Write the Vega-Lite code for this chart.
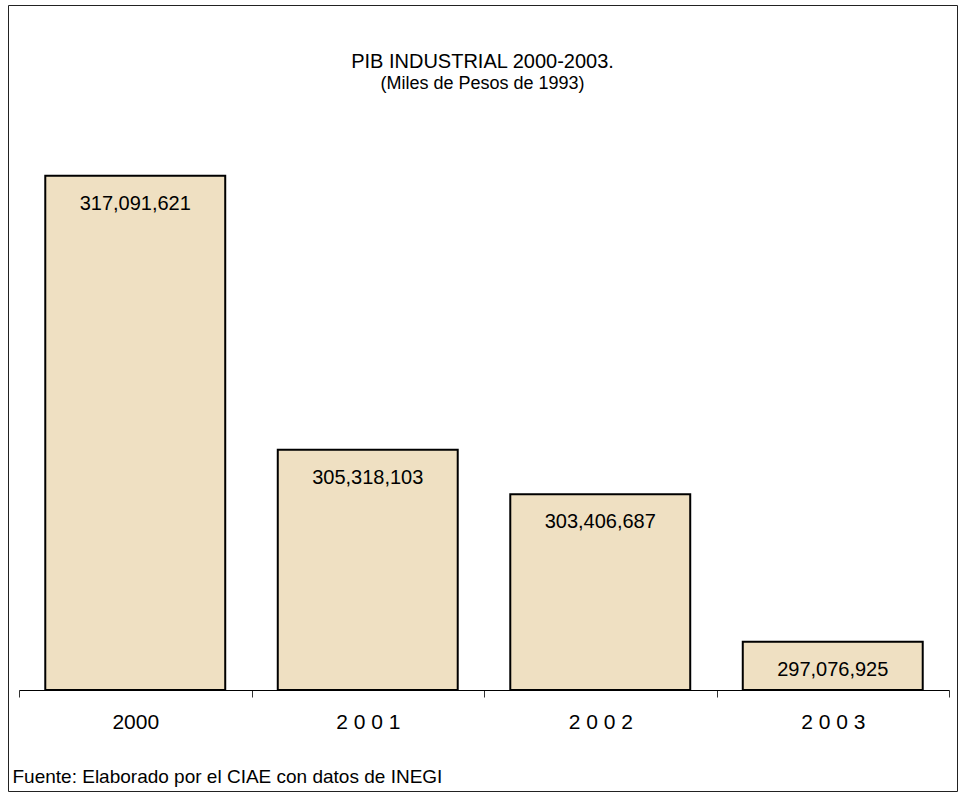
{
  "$schema": "https://vega.github.io/schema/vega-lite/v6.json",
  "width": 949,
  "height": 786,
  "autosize": {"type": "none"},
  "padding": {"left": 8, "top": 5, "right": 4, "bottom": 1},
  "background": "white",
  "title": {
    "text": "PIB INDUSTRIAL 2000-2003.",
    "subtitle": "(Miles de Pesos de 1993)",
    "anchor": "middle",
    "frame": "group",
    "offset": -88,
    "font": "Liberation Sans",
    "fontSize": 20,
    "fontWeight": "normal",
    "color": "black",
    "subtitleFont": "Liberation Sans",
    "subtitleFontSize": 18,
    "subtitleColor": "black",
    "subtitlePadding": 3
  },
  "config": {
    "view": {"stroke": "#222222", "strokeWidth": 1},
    "font": "Liberation Sans"
  },
  "data": {
    "values": [
      {"anio": "2000", "pib": 317091621},
      {"anio": "2 0 0 1", "pib": 305318103},
      {"anio": "2 0 0 2", "pib": 303406687},
      {"anio": "2 0 0 3", "pib": 297076925}
    ]
  },
  "layer": [
    {
      "mark": {"type": "bar", "fill": "#EFE0C2", "stroke": "black", "strokeWidth": 2, "width": {"band": 0.774}},
      "encoding": {
        "x": {
          "field": "anio",
          "type": "nominal",
          "sort": null,
          "scale": {"range": [11, 941], "paddingInner": 0, "paddingOuter": 0},
          "axis": {
            "orient": "bottom",
            "offset": -101,
            "title": "Fuente: Elaborado por el CIAE con datos de INEGI",
            "titleX": 4,
            "titleY": 86,
            "titleAlign": "left",
            "titleAnchor": null,
            "titleBaseline": "middle",
            "titleFont": "Liberation Sans",
            "titleFontSize": 19,
            "titleFontWeight": "normal",
            "titleColor": "black",
            "labelAngle": 0,
            "labelFont": "Liberation Sans",
            "labelFontSize": 21,
            "labelColor": "black",
            "labelPadding": 14,
            "tickBand": "extent",
            "tickSize": 7,
            "tickColor": "#333333",
            "domainColor": "#000000",
            "grid": false
          }
        },
        "y": {
          "field": "pib",
          "type": "quantitative",
          "scale": {"domain": [295000000, 320000000], "range": [685, 103], "zero": false, "nice": false},
          "axis": null
        },
        "y2": {"datum": 295000000}
      }
    },
    {
      "mark": {"type": "text", "dy": 28, "baseline": "middle", "fontSize": 20, "font": "Liberation Sans", "color": "black"},
      "encoding": {
        "x": {"field": "anio", "type": "nominal", "sort": null},
        "y": {"field": "pib", "type": "quantitative"},
        "text": {"field": "pib", "type": "quantitative", "format": ",d"}
      }
    }
  ]
}
